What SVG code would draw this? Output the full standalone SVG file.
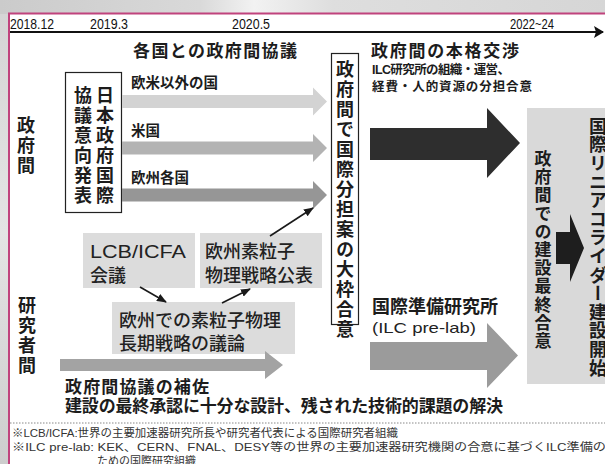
<svg xmlns="http://www.w3.org/2000/svg" width="605" height="464" viewBox="0 0 605 464">
<defs>
<linearGradient id="bgTop" x1="0" y1="0" x2="1" y2="0">
<stop offset="0" stop-color="#cbcbcb"/><stop offset="0.33" stop-color="#d9d9d9"/><stop offset="0.42" stop-color="#f2f2f2"/><stop offset="0.55" stop-color="#dedede"/><stop offset="1" stop-color="#d6d6d6"/>
</linearGradient>
<linearGradient id="bgLeft" x1="0" y1="0" x2="0" y2="1">
<stop offset="0" stop-color="#d4d4d4"/><stop offset="0.5" stop-color="#e4e4e4"/><stop offset="1" stop-color="#cdcdcd"/>
</linearGradient>
<marker id="ah" markerWidth="10" markerHeight="8" refX="9" refY="4" orient="auto" markerUnits="userSpaceOnUse">
<path d="M0,0 L10,4 L0,8 Z" fill="#1a1a1a"/>
</marker>
<marker id="tl" markerWidth="10" markerHeight="12" refX="9" refY="6" orient="auto" markerUnits="userSpaceOnUse">
<path d="M0,0 L10,6 L0,12 L2,6 Z" fill="#111"/>
</marker>
</defs>
<style>
.j{font-family:"Liberation Sans","Noto Sans CJK JP","Noto Sans CJK SC",sans-serif;font-weight:bold;fill:#1c1c1c}
.n{font-family:"Liberation Sans","Noto Sans CJK JP","Noto Sans CJK SC",sans-serif;font-weight:500;fill:#222}
.v{writing-mode:vertical-rl;font-family:"Noto Sans CJK JP","Noto Sans CJK SC",sans-serif;font-weight:bold;fill:#1c1c1c}
.t{font-family:"Liberation Sans",Arial,sans-serif;font-size:15px;fill:#111}
.box{fill:#fff;stroke:#222;stroke-width:1.2}
.gbox{fill:#dcdcdc}
.thin{stroke:#1a1a1a;stroke-width:1.6;fill:none;marker-end:url(#ah)}
.note{font-family:"Liberation Sans","Noto Sans CJK JP","Noto Sans CJK SC",sans-serif;font-size:11px;fill:#333}
</style>

<!-- background and frame -->
<rect x="0" y="0" width="605" height="464" fill="url(#bgLeft)"/>
<rect x="0" y="0" width="605" height="14" fill="url(#bgTop)"/>
<rect x="9" y="13.5" width="610" height="470" fill="#fff" stroke="#c0437d" stroke-width="2"/>

<!-- timeline -->
<g id="timeline">
<text class="t" x="10" y="28.5" textLength="44" lengthAdjust="spacingAndGlyphs">2018.12</text>
<text class="t" x="90" y="28.5" textLength="38" lengthAdjust="spacingAndGlyphs">2019.3</text>
<text class="t" x="232" y="28.5" textLength="38" lengthAdjust="spacingAndGlyphs">2020.5</text>
<text class="t" x="510" y="28.5" textLength="44" lengthAdjust="spacingAndGlyphs">2022~24</text>
<line x1="10" y1="32" x2="603" y2="32" stroke="#111" stroke-width="2" marker-end="url(#tl)"/>
</g>

<!-- row labels -->
<g id="label-gov"><text class="v" x="26" y="116" font-size="18" letter-spacing="2">政府間</text></g>
<g id="label-res"><text class="v" x="27" y="296" font-size="18" letter-spacing="2">研究者間</text></g>

<!-- headings -->
<g id="heading-consult"><text class="j" x="133" y="57" font-size="17" textLength="164">各国との政府間協議</text></g>
<g id="heading-negotiation">
<text class="j" x="371" y="57" font-size="17" textLength="148">政府間の本格交渉</text>
<text class="j" x="372" y="74" font-size="12.5" textLength="138">ILC研究所の組織・運営、</text>
<text class="j" x="372" y="91" font-size="12.5" textLength="160">経費・人的資源の分担合意</text>
</g>

<!-- Japan announcement box -->
<g id="node-japan">
<rect class="box" x="65.5" y="72.5" width="56" height="140"/>
<text class="v" x="105" y="86" font-size="18" letter-spacing="2">日本政府国際</text>
<text class="v" x="83" y="86" font-size="18" letter-spacing="2">協議意向発表</text>
</g>

<!-- country arrows -->
<g id="node-others">
<text class="j" x="131" y="88" font-size="14.5">欧米以外の国</text>
<polygon points="122,95 313,95 313,87.5 327,101.5 313,115.5 313,108 122,108" fill="#d3d3d3"/>
</g>
<g id="node-us">
<text class="j" x="131" y="136" font-size="14.5">米国</text>
<polygon points="122,141.5 313,141.5 313,134 327,148 313,162 313,154.5 122,154.5" fill="#b3b3b3"/>
</g>
<g id="node-europe">
<text class="j" x="131" y="183" font-size="14.5">欧州各国</text>
<polygon points="122,188.5 313,188.5 313,181 327,195 313,209 313,201.5 122,201.5" fill="#969696"/>
</g>

<!-- framework agreement -->
<g id="node-framework">
<rect class="box" x="331.5" y="53.5" width="27" height="271"/>
<text class="v" x="345" y="60" font-size="18" letter-spacing="2">政府間で国際分担案の大枠合意</text>
</g>

<!-- big arrows -->
<g id="node-negotiation-arrow">
<polygon points="370,128 487,128 487,108 520,143 487,178 487,160 370,160" fill="#2e2e2e"/>
</g>
<g id="node-prelab">
<text class="j" x="372" y="313" font-size="18">国際準備研究所</text>
<text class="n" x="372" y="333" font-size="15" textLength="104" lengthAdjust="spacingAndGlyphs">(ILC pre-lab)</text>
<polygon points="370,342 487,342 487,323 518,355.5 487,388 487,370 370,370" fill="#9b9b9b"/>
</g>

<!-- final box -->
<g id="node-final">
<rect x="527" y="108" width="90" height="276" fill="#d9d9d9"/>
<text class="v" x="543" y="150" font-size="17" letter-spacing="1.2">政府間での建設最終合意</text>
<polygon points="556,232 570,232 570,214 584,248 570,282 570,264 556,264" fill="#1e1e1e"/>
<text class="v" x="598" y="117" font-size="18" letter-spacing="0.6">国際リニアコライダー建設開始</text>
</g>

<!-- researcher boxes -->
<g id="node-lcb">
<rect class="gbox" x="83" y="233" width="112" height="55"/>
<text class="n" x="90" y="258" font-size="18" textLength="96" lengthAdjust="spacingAndGlyphs">LCB/ICFA</text>
<text class="n" x="90" y="282" font-size="18">会議</text>
</g>
<g id="node-espp">
<rect class="gbox" x="200" y="233" width="122" height="55"/>
<text class="n" x="205" y="258" font-size="18">欧州素粒子</text>
<text class="n" x="205" y="282" font-size="18">物理戦略公表</text>
</g>
<g id="node-discussion">
<rect class="gbox" x="112" y="302" width="183" height="52"/>
<text class="n" x="119" y="327" font-size="18">欧州での素粒子物理</text>
<text class="n" x="119" y="350" font-size="18">長期戦略の議論</text>
</g>

<g id="node-research-arrow">
<polygon points="60,359 265,359 265,351 283,365 265,379 265,371 60,371" fill="#a3a3a3"/>
<text class="j" x="65" y="393" font-size="17" textLength="144">政府間協議の補佐</text>
<text class="j" x="65" y="412" font-size="17" textLength="438">建設の最終承認に十分な設計、残された技術的課題の解決</text>
</g>

<!-- connectors -->
<g id="connectors">
<line class="thin" x1="140" y1="287" x2="166" y2="302"/>
<line class="thin" x1="222" y1="303" x2="250" y2="289"/>
<line class="thin" x1="270" y1="236" x2="313" y2="208"/>
</g>

<!-- notes -->
<line x1="10" y1="423" x2="605" y2="423" stroke="#888" stroke-width="1" stroke-dasharray="1.5,1.5"/>
<g id="notes">
<text class="note" x="12" y="437" textLength="386" lengthAdjust="spacingAndGlyphs">※LCB/ICFA:世界の主要加速器研究所長や研究者代表による国際研究者組織</text>
<text class="note" x="12" y="451" textLength="594" lengthAdjust="spacingAndGlyphs">※ILC pre-lab: KEK、CERN、FNAL、DESY等の世界の主要加速器研究機関の合意に基づくILC準備の</text>
<text class="note" x="97" y="465">ための国際研究組織</text>
</g>
</svg>
